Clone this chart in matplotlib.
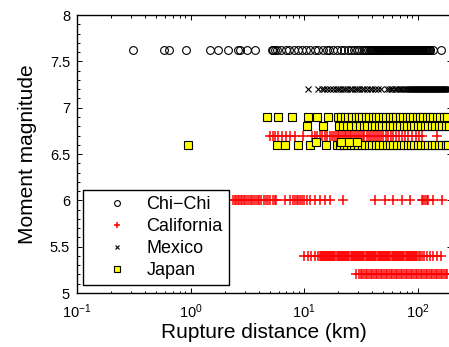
import matplotlib
matplotlib.use("Agg")
import matplotlib.pyplot as plt
from matplotlib.ticker import LogLocator, MultipleLocator, NullFormatter

plt.rcParams['font.family'] = ['Liberation Sans', 'DejaVu Sans']
plt.rcParams['mathtext.default'] = 'regular'

# rupture distances (km), one list per magnitude row
chichi_mw = 7.62
chichi_r = [0.31, 0.58, 0.64, 0.91, 1.49, 1.76, 2.13, 2.64, 2.73, 3.12, 3.70,
            5.2, 5.3, 5.5, 5.8, 6.3, 6.9, 7.4, 8.2, 8.9, 9.6, 10.5, 11.2, 12.4,
            13.3, 14.6, 15.8, 16.7, 18.1, 19.6, 21.0, 22.4, 24.3, 26.0, 27.5,
            29.1, 30.8, 32.2, 33.9, 35.4, 36.8,
            38.0, 38.8, 39.6, 40.4, 41.2, 42.0, 42.9, 43.7, 44.6, 45.5, 46.4,
            47.4, 48.3, 49.3, 50.3, 51.3, 52.3, 53.4, 54.4, 55.5, 56.6, 57.8,
            58.9, 60.1, 61.3, 62.6, 63.8, 65.1, 66.4, 67.7, 69.1, 70.5, 71.9,
            73.3, 74.8, 76.3, 77.8, 79.4, 81.0, 82.6, 84.3, 86.0, 87.7, 89.4,
            91.2, 93.0, 94.9, 96.8, 98.8, 100.7, 102.8, 104.8, 106.9, 109.1,
            111.2, 113.5, 115.7, 118.1, 120.4, 122.8, 125.3, 127.8, 129.5,
            137, 162]

mexico_mw = 7.2
mexico_r = [10.9, 13.4, 14.3, 15.1, 16.0, 16.8, 17.9, 19.0, 19.8, 20.9, 22.1,
            23.0, 23.8, 25.2, 26.5, 27.9, 29.0, 30.6, 32.4, 34.0, 35.7, 37.8,
            40.1, 42.5, 45.3, 48.0, 54, 56, 58.5, 60.1, 62.7, 64.9, 67.5, 70.2,
            72.1, 74.8, 77.3, 79.6, 82.0, 84.1,
            86.0, 87.7, 89.4, 91.2, 93.0, 94.9, 96.8, 98.8, 100.7, 102.8,
            104.8, 106.9, 109.1, 111.2, 113.5, 115.7, 118.1, 120.4, 122.8,
            125.3, 127.8, 130.3, 132.9, 135.6, 138.3, 141.1, 143.9, 146.8,
            149.7, 152.7, 155.8, 158.9, 162.1, 165.3, 168.6, 172.0, 175.4,
            178.9, 182.5, 186.2, 190.0]

japan_a_mw = 6.9
japan_a_r = [4.75, 5.86, 7.78, 10.9, 12.9, 16.4, 20.0, 21.3, 23.0, 24.6, 26.4,
             28.5, 30.3, 32.6, 35.1, 37.4, 40.2, 43.1, 46.0, 49.5, 53.0, 56.8,
             60.7, 65.1, 69.8, 74.6, 80.0, 85.6, 91.8, 98.1, 105.2, 112.6,
             120.5, 129.1, 138.2, 148.0, 158.4, 169.6, 181.6]
japan_b_mw = 6.8
japan_b_r = [10.6, 14.6, 20.2, 22.0, 24.1, 26.2, 28.8, 31.0, 33.9, 36.2, 39.5,
             42.4, 45.8, 49.0, 52.9, 57.1, 61.0, 65.8, 70.4, 75.9, 81.3, 87.5,
             93.6, 100.8, 107.9, 116.2, 124.3, 133.9, 143.3, 154.2, 165.0,
             177.6, 188.0]
japan_c_mw = 6.6
japan_c_r = [0.95, 5.76, 6.8, 8.9, 11.3, 15.6, 19.5, 20.6, 22.3, 23.9, 26.0,
             27.8, 30.0, 32.1, 34.6, 37.0, 39.9, 42.8, 46.1, 49.4, 53.3, 57.0,
             61.4, 65.7, 70.8, 75.7, 81.6, 87.3, 94.0, 100.6, 108.3, 115.9,
             124.8, 133.6, 143.8, 154.0, 165.8, 178.0, 186.0]
japan_d_mw = 6.63
japan_d_r = [12.8, 21.0, 24.8, 29.3]

cal_a_mw = 6.69
cal_a_r = [5.0, 5.3, 5.6, 5.9, 6.4, 7.0, 7.6, 8.4, 9.8, 11.8, 12.4, 12.9, 13.7,
           14.5, 15.2, 16.1, 16.9, 17.6, 18.3, 19.0, 19.8, 20.5, 21.3, 22.0,
           22.8, 23.6, 24.4, 25.3, 26.1, 27.0, 28.0, 29.1, 30.2, 31.5, 32.8,
           34.1, 35.6, 37.0, 38.6, 40.3, 42.0, 43.9, 45.8, 47.9, 50.0, 52.4,
           55.0, 57.9, 61.0, 64.5, 68.3, 72.6, 77.4, 83.0, 89.1, 96.0, 103.5,
           109.0, 148.0]
cal_b_mw = 6.0
cal_b_r = [2.38, 2.45, 2.52, 2.6, 2.68, 2.77, 2.85, 2.95, 3.05, 3.15, 3.26,
           3.38, 3.5, 3.62, 3.75, 3.9, 4.05, 4.2, 4.4, 4.6, 4.8, 5.05, 5.3,
           5.5, 5.7, 6.8, 7.5, 8.0, 8.3, 8.6, 8.9, 9.2, 9.6, 10.0, 10.6, 11.3,
           12.4, 13.7, 15.2, 16.9, 22.2, 42.0, 52.0, 61.0, 73.0, 86.0, 109,
           112, 116, 120, 124, 138, 163]
cal_c_mw = 5.4
cal_c_r = [10.0, 10.9, 11.6, 12.5, 13.4, 13.7, 14.0, 14.3, 14.6, 14.9, 15.2,
           15.6, 15.9, 16.3, 16.6, 17.0, 17.4, 17.8, 18.1, 18.5, 18.9, 19.4,
           19.8, 20.2, 20.7, 21.1, 21.6, 22.1, 22.5, 23.0, 23.5, 24.1, 24.6,
           25.1, 25.7, 26.3, 26.8, 27.4, 28.0, 28.7, 29.3, 29.9, 30.6, 31.3,
           32.0, 32.7, 33.4, 34.1, 34.9, 35.7, 36.4, 37.3, 38.1, 38.9, 39.8,
           40.7, 41.6, 42.5, 43.4, 44.4, 45.4, 46.4, 47.4, 48.4, 49.5, 50.6,
           51.7, 52.9, 54.0, 55.2, 56.5, 57.7, 59.0, 60.3, 61.6, 63.0, 64.4,
           65.8, 67.3, 68.8, 70.3, 71.8, 73.4, 75.1, 76.7, 78.4, 80.2, 82.0,
           83.8, 85.6, 87.5, 89.5, 91.5, 93.5, 95.6, 97.7, 99.8, 102.0, 104.3,
           109.0, 114.0, 120.0, 128.0, 138.0, 149.0, 162.0]
cal_d_mw = 5.2
cal_d_r = [28.7, 30.4, 31.5, 32.6, 33.8, 34.9, 36.2, 37.3, 38.6, 40.0, 41.3,
           42.8, 44.2, 45.8, 47.3, 49.0, 50.6, 52.4, 54.2, 56.1, 58.0, 60.0,
           62.1, 64.2, 66.4, 68.7, 71.1, 73.5, 76.0, 78.7, 81.4, 84.2, 87.1,
           90.1, 93.2, 96.4, 99.7, 103.2, 106.7, 110.4, 114.2, 118.1, 122.2,
           126.4, 130.8, 135.3, 140.0, 144.8, 149.8, 155.0, 160.3, 165.8,
           171.5, 177.4, 183.6]

fig = plt.figure(figsize=(4.49, 3.47), dpi=100)
ax = fig.add_axes([0.1715, 0.1556, 0.8345, 0.801])

circ = dict(marker='o', ls='none', ms=5.6, mfc='none', mec='black', mew=0.8)
plus = dict(marker='+', ls='none', ms=6.5, mec='red', mew=1.1)
cross = dict(marker='x', ls='none', ms=4.5, mec='black', mew=0.8)
sq = dict(marker='s', ls='none', ms=5.2, mfc='yellow', mec='black', mew=0.8)

ax.plot(chichi_r, [chichi_mw] * len(chichi_r), label='Chi\u2212Chi', **circ)
ax.plot(cal_a_r, [cal_a_mw] * len(cal_a_r), label='California', **plus)
ax.plot(cal_b_r, [cal_b_mw] * len(cal_b_r), **plus)
ax.plot(cal_c_r, [cal_c_mw] * len(cal_c_r), **plus)
ax.plot(cal_d_r, [cal_d_mw] * len(cal_d_r), **plus)
ax.plot(mexico_r, [mexico_mw] * len(mexico_r), label='Mexico', **cross)
ax.plot(japan_a_r, [japan_a_mw] * len(japan_a_r), label='Japan', **sq)
ax.plot(japan_b_r, [japan_b_mw] * len(japan_b_r), **sq)
ax.plot(japan_c_r, [japan_c_mw] * len(japan_c_r), **sq)
ax.plot(japan_d_r, [japan_d_mw] * len(japan_d_r), **sq)

ax.set_xscale('log')
ax.set_xlim(0.1, 200)
ax.set_ylim(5, 8)
ax.yaxis.set_major_locator(MultipleLocator(0.5))
ax.yaxis.set_minor_locator(MultipleLocator(0.1))
ax.yaxis.set_major_formatter(plt.FuncFormatter(lambda v, p: f'{v:g}'))
ax.xaxis.set_minor_locator(LogLocator(base=10, subs=range(2, 10)))
ax.xaxis.set_minor_formatter(NullFormatter())

ax.tick_params(which='both', direction='in', top=True, right=True,
               labelsize=10.5, width=0.7)
ax.tick_params(which='major', length=3.5)
ax.tick_params(which='minor', length=1.8)
ax.tick_params(axis='x', which='major', pad=7)
ax.tick_params(axis='y', which='major', pad=5)
for s in ax.spines.values():
    s.set_linewidth(1.0)

ax.set_xlabel('Rupture distance (km)', fontsize=15, labelpad=1)
ax.set_ylabel('Moment magnitude', fontsize=15, labelpad=9)

leg = ax.legend(loc='lower left', bbox_to_anchor=(0.016, 0.029),
                borderaxespad=0, fontsize=13, fancybox=False, framealpha=1,
                edgecolor='black', handlelength=3.1, handletextpad=0.1,
                labelspacing=0.28, borderpad=0.32, numpoints=1,
                markerscale=0.75)
leg.get_frame().set_linewidth(1.0)

fig.savefig('out.png', dpi=100)
